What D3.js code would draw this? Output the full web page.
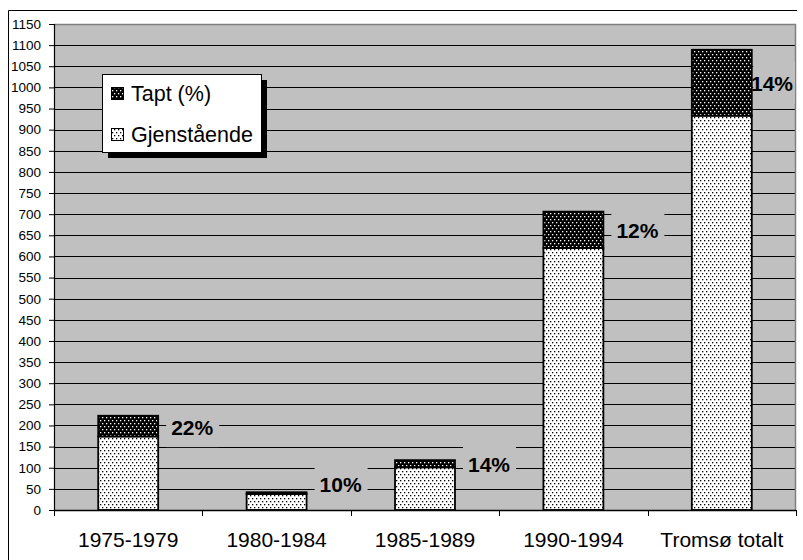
<!DOCTYPE html>
<html>
<head>
<meta charset="utf-8">
<script src="https://cdn.jsdelivr.net/npm/d3@7/dist/d3.min.js"></script>
<style>
  html, body { margin: 0; padding: 0; background: #fff; }
  svg { display: block; font-family: "Liberation Sans", Arial, sans-serif; }
</style>
</head>
<body>
<svg id="chart" width="803" height="560"></svg>
<script>
// Periods and the Tromsø total
const categories = ["1975-1979", "1980-1984", "1985-1989", "1990-1994", "Tromsø totalt"];
// Remaining (Gjenstående) and lost (Tapt) counts per period
const remaining = [174, 38, 101, 620, 933];
const lost = [49, 4, 17, 86, 156];
// Y axis tick values
const yTicks = d3.range(0, 1151, 50);
const seriesNames = ["Gjenstående", "Tapt (%)"];

const svg = d3.select("#chart");
const W = 803, H = 560;
const plot = { left: 54, right: 796, top: 24, bottom: 510 };

// Fill patterns: black dots on white, white dots on black
const defs = svg.append("defs");
function dotPattern(id, bg, fg) {
  const p = defs.append("pattern").attr("id", id)
    .attr("patternUnits", "userSpaceOnUse").attr("width", 4).attr("height", 6);
  p.append("rect").attr("width", 4).attr("height", 6).attr("fill", bg);
  p.append("rect").attr("x", 0).attr("y", 0).attr("width", 1.3).attr("height", 1.3).attr("fill", fg);
  p.append("rect").attr("x", 2).attr("y", 3).attr("width", 1.3).attr("height", 1.3).attr("fill", fg);
}
dotPattern("pLight", "#ffffff", "#000000");
dotPattern("pDark", "#000000", "#ffffff");
const fills = { "Gjenstående": "url(#pLight)", "Tapt (%)": "url(#pDark)" };

// Outer frame (left and top edges)
svg.append("path").attr("d", `M8.5,${H} V10.5 H797`).attr("fill", "none").attr("stroke", "#000").attr("stroke-width", 1);

// Scales
const x = d3.scaleBand().domain(categories).range([plot.left, plot.right])
  .paddingInner(0.596).paddingOuter(0.298);
const y = d3.scaleLinear().domain([0, 1150]).range([plot.bottom, plot.top]);

// Plot background
svg.append("rect").attr("x", plot.left).attr("y", plot.top)
  .attr("width", plot.right - plot.left).attr("height", plot.bottom - plot.top)
  .attr("fill", "#c0c0c0");

// Gridlines
svg.append("g").selectAll("line").data(yTicks.filter(v => v > 0 && v < 1150)).join("line")
  .attr("x1", plot.left).attr("x2", plot.right)
  .attr("y1", d => Math.round(y(d)) + 0.5).attr("y2", d => Math.round(y(d)) + 0.5)
  .attr("stroke", "#000").attr("stroke-width", 1);

// Plot border (top and right)
svg.append("path")
  .attr("d", `M${plot.left},${plot.top + 0.5} H${plot.right - 0.5} V${plot.bottom}`)
  .attr("fill", "none").attr("stroke", "#808080").attr("stroke-width", 1.5);

// Stacked bars
const rows = categories.map((c, i) => ({ cat: c, "Gjenstående": remaining[i], "Tapt (%)": lost[i] }));
const stacked = d3.stack().keys(seriesNames)(rows);
const barG = svg.append("g");
stacked.forEach(layer => {
  barG.append("g").selectAll("rect").data(layer).join("rect")
    .attr("x", d => x(d.data.cat))
    .attr("width", x.bandwidth())
    .attr("y", d => y(d[1]))
    .attr("height", d => y(d[0]) - y(d[1]))
    .attr("fill", fills[layer.key])
    .attr("stroke", "#000").attr("stroke-width", 1.8);
});

// Y axis
const yAxis = svg.append("g").attr("transform", `translate(${plot.left},0)`)
  .call(d3.axisLeft(y).tickValues(yTicks).tickSize(5).tickPadding(8).tickFormat(d3.format("d")));
yAxis.select(".domain").attr("stroke", "#000").attr("stroke-width", 1.2);
yAxis.selectAll(".tick line").attr("stroke", "#000");
yAxis.selectAll("text").attr("font-size", 13.5).attr("fill", "#000")
  .attr("font-family", '"Liberation Sans", Arial, sans-serif');

// X axis: line, ticks between categories, labels centred under bars
const step = x.step();
const xAxis = svg.append("g");
xAxis.append("line").attr("x1", plot.left).attr("x2", plot.right)
  .attr("y1", plot.bottom + 0.5).attr("y2", plot.bottom + 0.5)
  .attr("stroke", "#000").attr("stroke-width", 1.5);
const bounds = categories.map(c => x(c) + x.bandwidth() / 2 - step / 2)
  .concat([x(categories[categories.length - 1]) + x.bandwidth() / 2 + step / 2]);
xAxis.selectAll("line.tk").data(bounds).join("line").attr("class", "tk")
  .attr("x1", d => Math.round(d) + 0.5).attr("x2", d => Math.round(d) + 0.5)
  .attr("y1", plot.bottom).attr("y2", plot.bottom + 6)
  .attr("stroke", "#000").attr("stroke-width", 1);
xAxis.selectAll("text").data(categories).join("text")
  .attr("x", d => x(d) + x.bandwidth() / 2)
  .attr("y", 547)
  .attr("text-anchor", "middle")
  .attr("font-size", 21)
  .attr("fill", "#000")
  .text(d => d);

// Percentage lost labels beside each bar, with plot-coloured backing
const labG = svg.append("g");
rows.forEach((r, i) => {
  const total = remaining[i] + lost[i];
  const txt = Math.round(lost[i] / total * 100) + "%";
  const t = labG.append("text")
    .attr("font-size", 21).attr("font-weight", "bold").attr("fill", "#000")
    .attr("dominant-baseline", "central")
    .text(txt);
  const tw = t.node().getComputedTextLength();
  const barRight = x(r.cat) + x.bandwidth();
  let tx = barRight + 13;
  if (tx + tw > plot.right - 3) tx = plot.right - 3 - tw;
  let ty = y((remaining[i] + total) / 2);
  if (ty > plot.bottom - 27) ty = plot.bottom - 27;
  const bx = Math.max(tx - 5, barRight + 1.5);
  labG.insert("rect", "text")
    .attr("x", bx).attr("y", ty - 21)
    .attr("width", Math.min(tx + tw + 6, plot.right - 1) - bx).attr("height", 42)
    .attr("fill", "#c0c0c0");
  t.attr("x", tx).attr("y", ty + 1);
});

// Legend with drop shadow
const lg = svg.append("g");
lg.append("rect").attr("x", 108).attr("y", 80).attr("width", 159).attr("height", 78).attr("fill", "#000");
lg.append("rect").attr("x", 102.5).attr("y", 74.5).attr("width", 159).attr("height", 78)
  .attr("fill", "#fff").attr("stroke", "#000").attr("stroke-width", 1);
const legendItems = ["Tapt (%)", "Gjenstående"];
legendItems.forEach((name, i) => {
  const cy = 94 + i * 41;
  lg.append("rect").attr("x", 111.5).attr("y", cy - 6.5).attr("width", 12).attr("height", 12)
    .attr("fill", fills[name]).attr("stroke", "#000").attr("stroke-width", 1);
  lg.append("text").attr("x", 131).attr("y", cy).attr("dominant-baseline", "central")
    .attr("font-size", 21.5).attr("fill", "#000").text(name);
});
</script>
</body>
</html>
